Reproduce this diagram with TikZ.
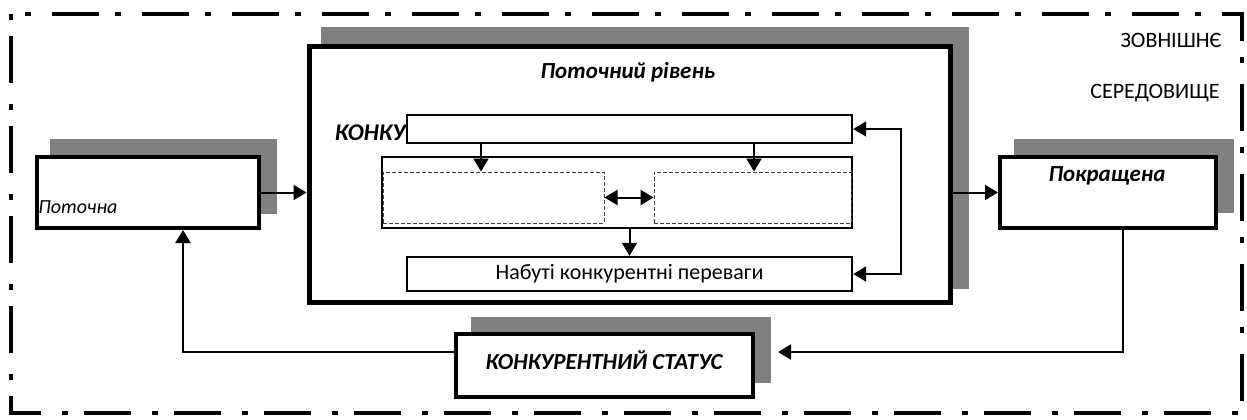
\documentclass[tikz,border=0pt]{standalone}
\usepackage{fontspec}
\setmainfont{Carlito}
\usepackage{tikz}
\usetikzlibrary{arrows.meta,calc}
\definecolor{shadegray}{HTML}{808080}
\tikzset{
	box/.style={draw, fill=white, rectangle, inner sep=0pt},
	bigbox/.style={box, line width=2.5pt},
	midbox/.style={box, line width=2pt},
	thinbox/.style={box, line width=1.2pt},
	dashbox/.style={draw=black!75, dash pattern=on 2pt off 1pt, line width=0.5pt, rectangle, inner sep=0pt},
	shade/.style={fill=shadegray},
	arr/.style={line width=1pt, -{Triangle[length=6.5pt,width=7.5pt]}},
	dblarr/.style={line width=1pt, {Triangle[length=6.5pt,width=7.5pt]}-{Triangle[length=6.5pt,width=7.5pt]}},
	frame/.style={line width=2pt, dash pattern=on 3pt off 8pt on 23.5pt off 10.5pt},
	title/.style={font=\fontsize{11.5pt}{14pt}\selectfont\bfseries\itshape, inner sep=0pt}
}

\begin{document}
\begin{tikzpicture}[x=0.5pt, y=-0.5pt, font=\fontsize{11pt}{13pt}\selectfont]
		%%%%% START %%%%%
		\useasboundingbox (0, 0) rectangle (1247, 419);
		
		% outer environment
		\draw[frame] (11, 14) rectangle (1242, 413);
		\node[anchor=base east, inner sep=0pt] (env1) at (1222, 47) {ЗОВНІШНЄ};
		\node[anchor=base east, inner sep=0pt] (env2) at (1220, 98) {СЕРЕДОВИЩЕ};
		
		% shadows
		\fill[shade] (321, 27) rectangle (969, 289);
		\fill[shade] (50, 139) rectangle (277, 214);
		\fill[shade] (1014, 139) rectangle (1234, 213);
		\fill[shade] (471, 317) rectangle (771, 383);
		
		% boxes
		\node[bigbox, minimum width=320.5pt, minimum height=128pt] (level) at (629.5, 174) {};
		\node[midbox, minimum width=111pt, minimum height=35.5pt] (cur) at (148, 192.5) {};
		\node[midbox, minimum width=108pt, minimum height=35.5pt] (imp) at (1108, 192.5) {};
		\node[midbox, minimum width=148.5pt, minimum height=31.5pt] (status) at (604.5, 365.5) {};
		
		\node[thinbox, minimum width=222.5pt, minimum height=14pt] (bar) at (629.5, 129) {};
		\node[thinbox, minimum width=235pt, minimum height=35.5pt] (cont) at (617, 192.5) {};
		\node[dashbox, minimum width=110.5pt, minimum height=25.5pt] (dl) at (493.5, 197.5) {};
		\node[dashbox, minimum width=98.5pt, minimum height=25.5pt] (dr) at (752.5, 197.5) {};
		\node[thinbox, minimum width=222.5pt, minimum height=17pt] (gain) at (629.5, 274) {Набуті конкурентні переваги};
		
		% texts
		\node[title] (leveltxt) at (628, 72) {Поточний рівень};
		\node[title, anchor=base east, font=\fontsize{12pt}{14pt}\selectfont\bfseries\itshape] (kontxt) at (406, 140) {КОНКУ};
		\node[anchor=base west, inner sep=0pt, font=\itshape] (curtxt) at (38, 213) {Поточна};
		\node[title] (imptxt) at (1107, 176) {Покращена};
		\node[title] (stattxt) at (604, 360) {КОНКУРЕНТНИЙ СТАТУС};
		
		% connections
		\draw[arr] (cur.east) -- (cur.east -| level.west);
		\draw[arr] (imp.west -| level.east) -- (imp.west);
		\draw[arr] ([xshift=-74.25pt]bar.south) -- ([xshift=-74.25pt]bar.south |- dl.north);
		\draw[arr] ([xshift=62.25pt]bar.south) -- ([xshift=62.25pt]bar.south |- dr.north);
		\draw[dblarr] (dl.east) -- (dr.west);
		\draw[arr] (gain.north |- cont.south) -- (gain.north);
		\draw[dblarr] (gain.east) -- ++(48, 0) |- (bar.east);
		
		\coordinate (statin) at (778, 352);
		\draw[arr] ([xshift=7.5pt]imp.south) |- (statin);
		\draw[arr] ([yshift=6.75pt]status.west) -| ([xshift=17.5pt]cur.south);
		%%%%% END %%%%%
	\end{tikzpicture}
\end{document}
